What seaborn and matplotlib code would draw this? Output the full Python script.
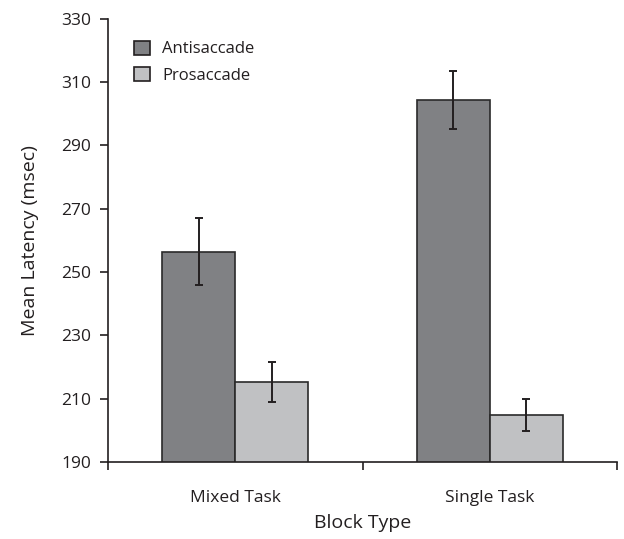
import matplotlib
matplotlib.use("Agg")
import matplotlib.pyplot as plt
import seaborn as sns
import pandas as pd
import numpy as np
from matplotlib.ticker import FixedLocator

block_types = ["Mixed Task", "Single Task"]
tasks = ["Antisaccade", "Prosaccade"]
antisaccade_mean = [256.4, 304.4]
prosaccade_mean = [215.3, 204.9]
antisaccade_err = [10.6, 9.2]
prosaccade_err = [6.3, 5.0]

rows = []
for i, b in enumerate(block_types):
    rows.append({"Block Type": b, "Task": tasks[0], "Latency": antisaccade_mean[i], "Err": antisaccade_err[i]})
    rows.append({"Block Type": b, "Task": tasks[1], "Latency": prosaccade_mean[i], "Err": prosaccade_err[i]})
df = pd.DataFrame(rows)

sns.set_theme(style="white")
plt.rcParams['font.family'] = ['Open Sans', 'DejaVu Sans']

fig = plt.figure(figsize=(6.24, 5.39), dpi=100)
ax = fig.add_axes([0.173, 0.143, 0.816, 0.822])

palette = {"Antisaccade": "#808184", "Prosaccade": "#c0c1c3"}
sns.barplot(data=df, x="Block Type", y="Latency", hue="Task", hue_order=tasks,
            order=block_types, palette=palette, errorbar=None, width=0.575,
            edgecolor="#2a2a2a", linewidth=1.2, saturation=1, ax=ax)

# error bars at bar centres
for container, task in zip(ax.containers, tasks):
    sub = df[df["Task"] == task].set_index("Block Type").loc[block_types]
    xs = [p.get_x() + p.get_width() / 2 for p in container.patches]
    ax.errorbar(xs, sub["Latency"].values, yerr=sub["Err"].values, fmt="none",
                ecolor="#231f20", elinewidth=1.4, capsize=3.2, capthick=1.4, zorder=5)

ax.set_ylim(190, 330)
ax.set_xlim(-0.5, 1.5)
ax.set_yticks(np.arange(190, 331, 20))
ax.set_xticks([0, 1])
ax.xaxis.set_minor_locator(FixedLocator([-0.5, 0.5, 1.5]))
ax.tick_params(axis="x", which="major", length=0, labelsize=12.5, pad=20, colors="#231f20")
ax.tick_params(axis="x", which="minor", length=6, width=1.2, color="#231f20", direction="out", bottom=True)
ax.tick_params(axis="y", length=6, width=1.2, color="#231f20", direction="out", labelsize=12.5,
               left=True, colors="#231f20", pad=6)
for s in ["top", "right"]:
    ax.spines[s].set_visible(False)
for s in ["left", "bottom"]:
    ax.spines[s].set_color("#231f20")
    ax.spines[s].set_linewidth(1.2)

ax.set_xlabel("Block Type", fontsize=14, color="#231f20", labelpad=6)
ax.set_ylabel("Mean Latency (msec)", fontsize=14, color="#231f20", labelpad=16)

leg = ax.legend(loc="upper left", bbox_to_anchor=(0.022, 0.985), frameon=False, fontsize=12,
                handlelength=0.95, handleheight=0.95, handletextpad=0.75, labelspacing=0.55)
for t in leg.get_texts():
    t.set_color("#231f20")
for h in leg.legend_handles:
    h.set_edgecolor("#231f20")
    h.set_linewidth(1.2)

fig.savefig("out.png", dpi=100)
